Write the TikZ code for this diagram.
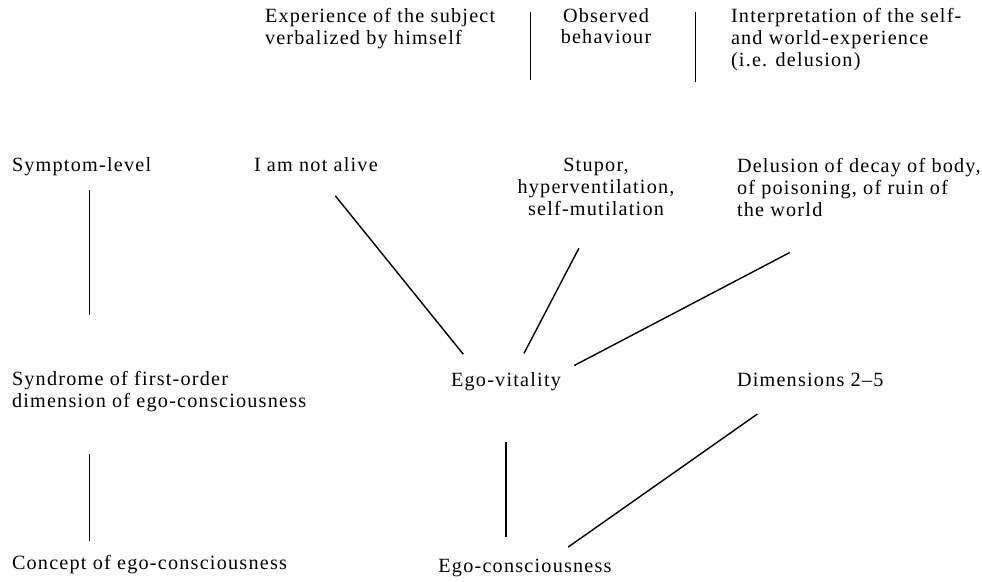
\documentclass[tikz,border=0pt]{standalone}
\usepackage{fontspec}
\setmainfont{Liberation Serif}[LetterSpace=6]
\begin{document}
\begin{tikzpicture}[x=0.02cm,y=-0.02cm,font=\fontsize{11.5}{12.5}\selectfont,
 lbl/.style={inner sep=0pt,outer sep=0pt},
 link/.style={line width=0.8pt},
 bar/.style={line width=0.45pt}]
 \useasboundingbox (0,0) rectangle (982,581);
 \node [lbl,anchor=north west,align=left] (exper) at (265,8) {Experience of the subject\\verbalized by himself};
 \node [lbl,anchor=north,align=center] (observed) at (606,8) {Observed\\behaviour};
 \node [lbl,anchor=north west,align=left] (interp) at (731,8) {Interpretation of the self-\\and world-experience\\(i.e. delusion)};
 \draw [bar] (530,12) -- (530,80);
 \draw [bar] (695,12) -- (695,82);
 \node [lbl,anchor=base west] (symptom) at (12,171.5) {Symptom-level};
 \node [lbl,anchor=base west] (notalive) at (254,171.5) {I am not alive};
 \node [lbl,anchor=north,align=center] (stupor) at (596,158) {Stupor,\\hyperventilation,\\self-mutilation};
 \node [lbl,anchor=north west,align=left] (delusion) at (737,158) {Delusion of decay of body,\\of poisoning, of ruin of\\the world};
 \node [lbl,anchor=north west,align=left] (syndrome) at (12,371) {Syndrome of first-order\\dimension of ego-consciousness};
 \node [lbl,anchor=base] (vitality) at (506,386.5) {Ego-vitality};
 \node [lbl,anchor=base west] (dimensions) at (737,386.5) {Dimensions 2--5};
 \node [lbl,anchor=base west] (concept) at (12,569.5) {Concept of ego-consciousness};
 \node [lbl,anchor=base] (egocons) at (525,572.5) {Ego-consciousness};
 \coordinate (stem) at ([shift={(8,0)}]symptom.south);
 \draw [link,shorten <=0.62cm,shorten >=0.47cm] (notalive.south) -- ([shift={(-28,0)}]vitality.north);
 \draw [link,shorten <=0.74cm,shorten >=0.43cm] (stupor.south) -- ([shift={(8,0)}]vitality.north);
 \draw [link,shorten <=1.56cm,shorten >=0.3cm] (delusion.south) -- (vitality.north east);
 \draw [link,shorten <=0.28cm,shorten >=1.12cm] (stem) -- (stem |- syndrome.north);
 \draw [link,shorten <=0.84cm,shorten >=0.28cm] (stem |- syndrome.south) -- (stem |- concept.north);
 \draw [link,shorten <=1.02cm,shorten >=0.44cm] (vitality.south) -- (vitality.south |- egocons.north);
 \draw [link,shorten <=0.95cm,shorten >=0.42cm] ([shift={(-14,0)}]dimensions.south) -- ([shift={(26,0)}]egocons.north);
\end{tikzpicture}
\end{document}
